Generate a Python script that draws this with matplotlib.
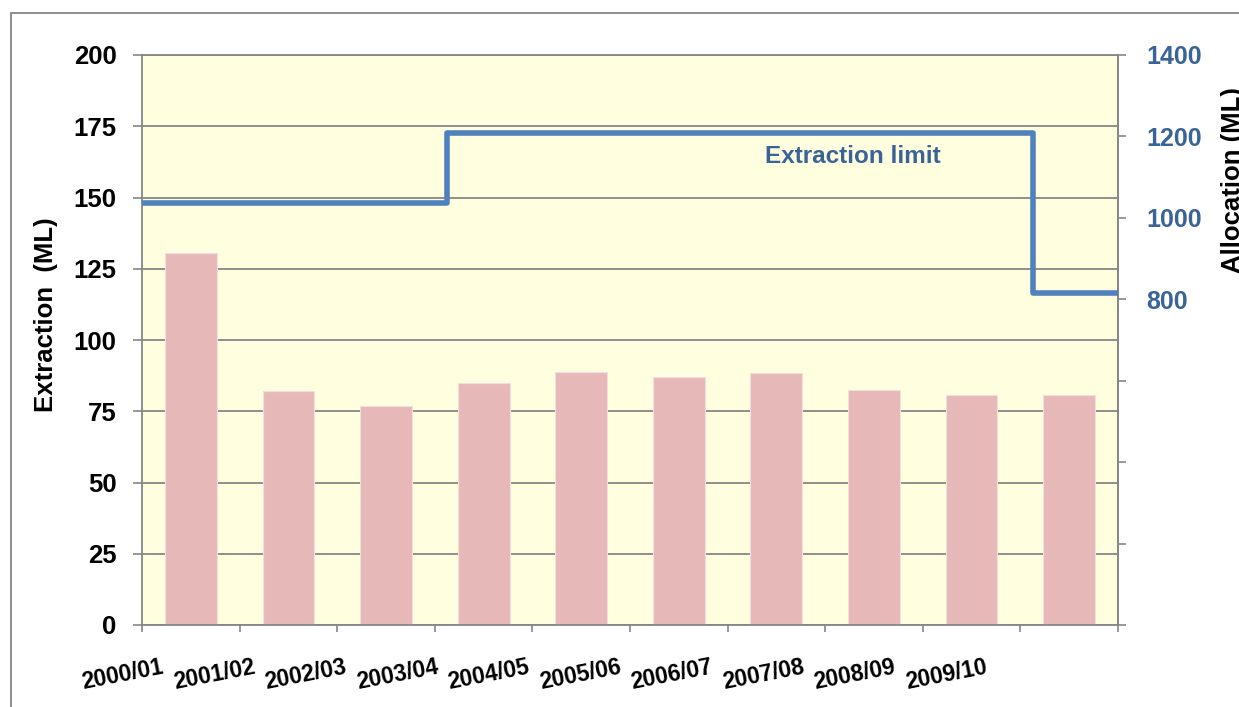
import numpy as np
import matplotlib
matplotlib.use("Agg")
import matplotlib.pyplot as plt
from matplotlib.patches import Rectangle
from matplotlib.transforms import ScaledTranslation

plt.rcParams['font.family'] = ['Liberation Sans', 'DejaVu Sans']
plt.rcParams['font.weight'] = 'bold'

# --- data ---
seasons = ['2000/01', '2001/02', '2002/03', '2003/04', '2004/05',
           '2005/06', '2006/07', '2007/08', '2008/09', '2009/10']
extraction = [130.4, 82.0, 76.9, 84.9, 88.6, 87.1, 88.5, 82.5, 80.6, 80.6]

# extraction limit (allocation), changes part way through a season
limit_levels = [1036, 1209, 816]
limit_edges = [0, 3.12, 9.13, 10]   # seasons counted from start of 2000/01

GRID = '#868686'
BAR = '#E6B9B8'
LINE = '#4F81BD'
BLUE_TXT = '#3A6398'

fig = plt.figure(figsize=(12.39, 7.07), dpi=100)
W, H = 1239, 707
ax = fig.add_axes([142.3 / W, (H - 625) / H, 975.4 / W, 570 / H])
ax.set_facecolor('#FFFFDF')

n = len(seasons)
centers = np.arange(n) + 0.5
ax.bar(centers, extraction, width=0.53, color=BAR, edgecolor='#F3DEDB',
       linewidth=0.8, zorder=2)

ax.set_xlim(0, n)
ax.set_ylim(0, 200)
ax.set_yticks(np.arange(0, 201, 25))
ax.set_xticks(np.arange(0, n + 1))
ax.set_xticklabels([])
ax.grid(axis='y', color=GRID, linewidth=1.3)
ax.set_axisbelow(True)
ax.tick_params(axis='y', direction='out', length=6.5, width=1.2, color=GRID,
               labelsize=18.5, pad=12)
ax.tick_params(axis='x', direction='out', length=5, width=1.2, color=GRID)
for s in ['left', 'bottom', 'top', 'right']:
    ax.spines[s].set_color(GRID)
    ax.spines[s].set_linewidth(1.3)

# season labels, tilted, sitting left of their bars
lab_x = centers - 0.70 - 0.062 * np.arange(n)
for x, lab in zip(lab_x, seasons):
    tr = ax.get_xaxis_transform() + ScaledTranslation(0, -50 / 100, fig.dpi_scale_trans)
    ax.text(x, 0, lab, transform=tr, rotation=11, rotation_mode='anchor',
            ha='center', va='center', fontsize=16.5, clip_on=False)

# secondary axis: allocation
ax2 = ax.twinx()
ax2.set_ylim(0, 1400)
ticks2 = np.arange(0, 1401, 200)
ax2.set_yticks(ticks2)
ax2.set_yticklabels([str(t) if t >= 800 else '' for t in ticks2])
ax2.tick_params(axis='y', direction='out', length=5.8, width=1.2, color=GRID,
                labelsize=18, labelcolor=BLUE_TXT, pad=15)
for s in ax2.spines.values():
    s.set_visible(False)
ax2.spines['right'].set_visible(True)
ax2.spines['right'].set_color(GRID)
ax2.spines['right'].set_linewidth(1.3)

st = ax2.stairs(limit_levels, limit_edges, baseline=None, color=LINE,
                linewidth=4, zorder=3)
st.set_joinstyle('round')

ax2.text(7.28, 1150, 'Extraction limit', color=BLUE_TXT, fontsize=17.5,
         ha='center', va='center')

fig.text(46 / W, 1 - 315 / H, 'Extraction  (ML)', rotation=90,
         ha='center', va='center', fontsize=18.5)
# right title runs off the edge of the chart area
fig.text(1233 / W, 1 - 180 / H, 'Allocation (ML)', rotation=90,
         ha='center', va='center', fontsize=18.5)

# chart area border
fig.patches.append(Rectangle((11 / W, -0.2), 2, 1.2 - 13 / H,
                             transform=fig.transFigure, fill=False,
                             edgecolor=GRID, linewidth=1.3))

fig.savefig('out.png', dpi=100)
